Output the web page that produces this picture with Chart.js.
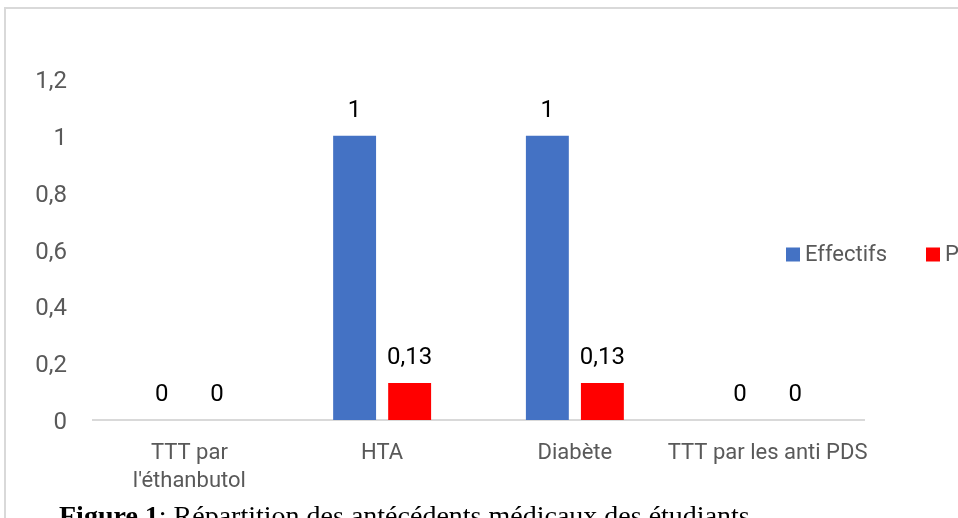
<!DOCTYPE html>
<html lang="fr">
<head>
<meta charset="utf-8">
<script src="https://cdn.jsdelivr.net/npm/chart.js@4.4.1/dist/chart.umd.min.js"></script>
<style>
  html, body { margin: 0; padding: 0; background: #fff; overflow: hidden; }
  body { width: 958px; height: 518px; position: relative; }
  #frame {
    position: absolute; left: 4px; top: 7px; width: 1200px; height: 600px;
    border: 2px solid #d9d9d9; box-sizing: border-box;
  }
  #wrap { position: absolute; left: 0; top: 0; width: 958px; height: 518px; }
  #caption {
    position: absolute; left: 59px; top: 500px; white-space: nowrap;
    font-family: "Liberation Serif", "Times New Roman", serif; font-size: 28px; color: #000;
  }
</style>
</head>
<body>
<div id="frame"></div>
<div id="wrap"><canvas id="chart" width="958" height="518"></canvas></div>
<div id="caption"><b>Figure 1</b>: Répartition des antécédents médicaux des étudiants</div>
<script>
// Antécédents médicaux
const categories = [["TTT par", "l'éthanbutol"], "HTA", "Diabète", "TTT par les anti PDS"];
const effectifs = [0, 1, 1, 0];
const pourcentages = [0, 0.13, 0.13, 0];
const seriesNames = ["Effectifs", "Pourcentage"];
const seriesColors = ["#4472C4", "#FF0000"];
const yTicks = [0, 0.2, 0.4, 0.6, 0.8, 1, 1.2];

const fr = v => String(Number(v.toFixed(2))).replace('.', ',');

const TEXT_FONT = 'Roboto, "Liberation Sans", sans-serif';

// Value labels above each bar
const valueLabels = {
  id: 'valueLabels',
  afterDatasetsDraw(chart) {
    const ctx = chart.ctx;
    ctx.save();
    ctx.font = '24px ' + TEXT_FONT;
    ctx.fillStyle = '#000';
    ctx.textAlign = 'center';
    ctx.textBaseline = 'bottom';
    chart.data.datasets.forEach((ds, i) => {
      chart.getDatasetMeta(i).data.forEach((bar, j) => {
        ctx.fillText(fr(ds.data[j]), bar.x, bar.y - 13);
      });
    });
    ctx.restore();
  }
};

// Horizontal legend on the right side
const sideLegend = {
  id: 'sideLegend',
  afterDraw(chart) {
    const ctx = chart.ctx;
    const area = chart.chartArea;
    const cy = (area.top + area.bottom) / 2 + 5;
    let x = 786;
    ctx.save();
    ctx.font = '22px ' + TEXT_FONT;
    ctx.textBaseline = 'middle';
    chart.data.datasets.forEach(ds => {
      ctx.fillStyle = ds.backgroundColor;
      ctx.fillRect(x, cy - 7, 14, 14);
      ctx.fillStyle = '#595959';
      ctx.textAlign = 'left';
      ctx.fillText(ds.label, x + 19, cy + 1);
      x += 140;
    });
    ctx.restore();
  }
};

new Chart(document.getElementById('chart'), {
  type: 'bar',
  data: {
    labels: categories,
    datasets: [
      { label: seriesNames[0], data: effectifs, backgroundColor: seriesColors[0] },
      { label: seriesNames[1], data: pourcentages, backgroundColor: seriesColors[1] }
    ]
  },
  plugins: [valueLabels, sideLegend],
  options: {
    responsive: false,
    animation: false,
    layout: { padding: { top: 79, right: 94, left: 0, bottom: 0 } },
    plugins: { legend: { display: false }, tooltip: { enabled: false } },
    datasets: { bar: { categoryPercentage: 0.571, barPercentage: 0.78 } },
    scales: {
      x: {
        grid: { display: false, drawTicks: false },
        border: { display: true, color: '#d9d9d9', width: 2 },
        ticks: {
          color: '#595959', font: { family: TEXT_FONT, size: 22, lineHeight: 1.27 },
          padding: 20, maxRotation: 0, autoSkip: false
        },
        afterFit(s) { s.height = 98; }
      },
      y: {
        min: 0, max: 1.2,
        afterBuildTicks(s) { s.ticks = yTicks.map(v => ({ value: v })); },
        grid: { display: false, drawTicks: false },
        border: { display: false },
        ticks: {
          color: '#595959', font: { family: TEXT_FONT, size: 24 }, padding: 26,
          labelOffset: 3, callback: v => fr(v)
        },
        afterFit(s) { s.width = 93; }
      }
    }
  }
});
</script>
</body>
</html>
